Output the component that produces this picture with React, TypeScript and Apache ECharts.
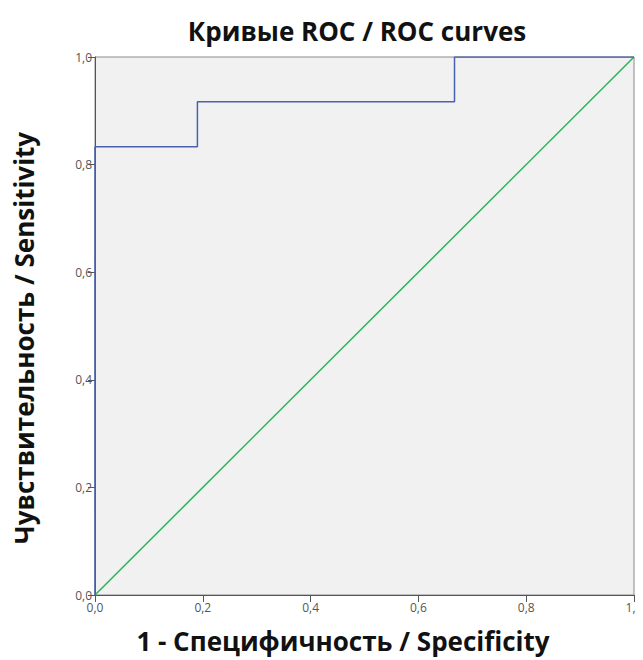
import React, { useEffect, useRef } from "react";
import * as echarts from "echarts";

const rocX = [0, 0, 0.19, 0.19, 0.667, 0.667, 1];
const rocY = [0, 0.833, 0.833, 0.917, 0.917, 1, 1];
const refX = [0, 1];
const refY = [0, 1];

const titleText = "Кривые ROC / ROC curves";
const xName = "1 - Специфичность / Specificity";
const yName = "Чувствительность / Sensitivity";

const fmt = (v: number) => v.toFixed(1).replace(".", ",");

export default function App() {
  const ref = useRef<HTMLDivElement>(null);
  useEffect(() => {
    const chart = echarts.init(ref.current!, null, { renderer: "svg" });
    const font = "'Open Sans', 'Noto Sans', sans-serif";
    const nameStyle = { fontFamily: font, fontSize: 26, fontWeight: "bold", color: "#111" };
    chart.setOption({
      animation: false,
      backgroundColor: "#ffffff",
      title: [
        {
          text: titleText,
          left: 352,
          top: 13,
          textAlign: "center",
          textStyle: nameStyle,
        },
        {
          text: xName,
          left: 338,
          top: 623,
          textAlign: "center",
          textStyle: nameStyle,
        },
      ],
      graphic: [
        {
          type: "text",
          x: 24,
          y: 338,
          rotation: Math.PI / 2,
          style: {
            text: yName,
            fontFamily: font,
            fontSize: 26,
            fontWeight: "bold",
            fill: "#111",
            align: "center",
            verticalAlign: "middle",
          },
        },
      ],
      grid: {
        left: 95,
        right: 9,
        top: 57,
        bottom: 65,
        outerBoundsMode: "none",
        containLabel: false,
        show: true,
        backgroundColor: "#f1f1f1",
        borderColor: "#8a8a8a",
        borderWidth: 1,
      },
      xAxis: {
        type: "value",
        min: 0,
        max: 1,
        interval: 0.2,
        axisLine: { show: true, lineStyle: { color: "#555", width: 1 } },
        axisTick: { show: true, inside: false, length: 7, lineStyle: { color: "#555" } },
        axisLabel: {
          fontFamily: font,
          fontSize: 12,
          color: "#555",
          margin: 6,
          formatter: (v: number) => fmt(v),
        },
        splitLine: { show: false },
      },
      yAxis: {
        type: "value",
        min: 0,
        max: 1,
        interval: 0.2,
        axisLine: { show: true, lineStyle: { color: "#555", width: 1 } },
        axisTick: { show: true, inside: false, length: 7, lineStyle: { color: "#555" } },
        axisLabel: {
          fontFamily: font,
          fontSize: 12,
          color: "#555",
          margin: 3,
          formatter: (v: number) => fmt(v),
        },
        splitLine: { show: false },
      },
      series: [
        {
          type: "line",
          data: refX.map((x, i) => [x, refY[i]]),
          symbol: "none",
          lineStyle: { color: "#2db35a", width: 1.5 },
          z: 2,
        },
        {
          type: "line",
          data: rocX.map((x, i) => [x, rocY[i]]),
          symbol: "none",
          lineStyle: { color: "#4a62ad", width: 1.5 },
          z: 3,
        },
      ],
    });
    return () => chart.dispose();
  }, []);
  return <div ref={ref} style={{ width: 643, height: 660, marginLeft: -8, marginTop: -8 }} />;
}
